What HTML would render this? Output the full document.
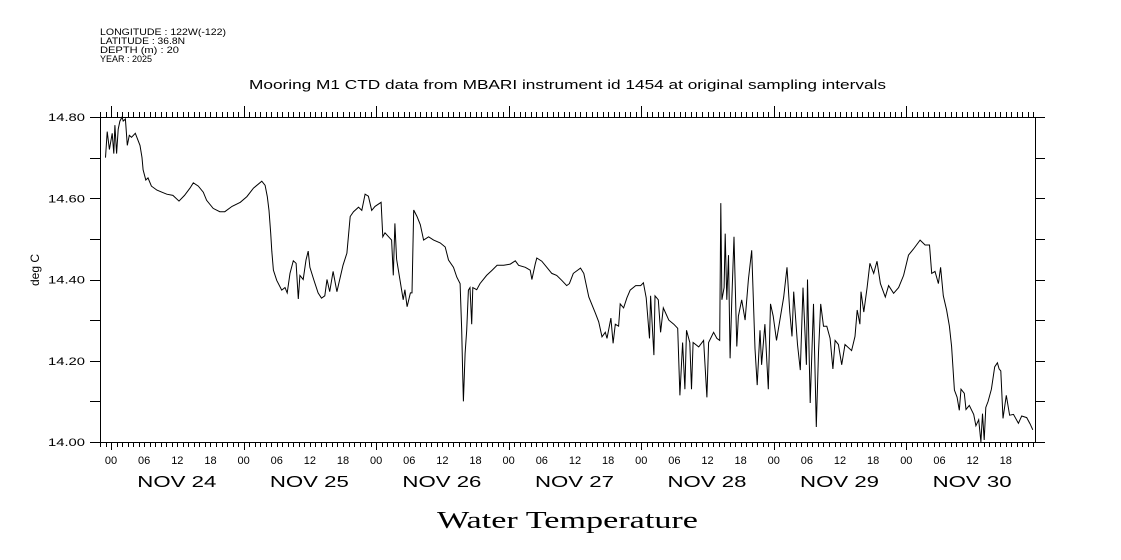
<!DOCTYPE html>
<html><head><meta charset="utf-8">
<style>
html,body{margin:0;padding:0;background:#fff;}
svg{display:block;}
text{font-family:"Liberation Sans",sans-serif;fill:#000;}
</style></head>
<body>
<svg id="chart" width="1121" height="560" viewBox="0 0 1121 560" xmlns="http://www.w3.org/2000/svg">
<g>
<text x="100" y="35" textLength="126" lengthAdjust="spacingAndGlyphs" style="font-size:9px">LONGITUDE : 122W(-122)</text>
<text x="100" y="44" textLength="85" lengthAdjust="spacingAndGlyphs" style="font-size:9px">LATITUDE : 36.8N</text>
<text x="100" y="53" textLength="79" lengthAdjust="spacingAndGlyphs" style="font-size:9px">DEPTH (m) : 20</text>
<text x="100" y="62" textLength="52" lengthAdjust="spacingAndGlyphs" style="font-size:9px">YEAR : 2025</text>
</g>
<text x="249" y="89" textLength="637" lengthAdjust="spacingAndGlyphs" style="font-size:13px">Mooring M1 CTD data from MBARI instrument id 1454 at original sampling intervals</text>
<text transform="translate(39,270) rotate(-90)" text-anchor="middle" style="font-size:12px">deg C</text>
<text x="437" y="528" textLength="261" lengthAdjust="spacingAndGlyphs" style="font-family:'Liberation Serif',serif;font-size:24px">Water Temperature</text>
<g id="axes"></g>
<g id="plot"></g>
</svg>
<script>
const yTicks=[14.0,14.1,14.2,14.3,14.4,14.5,14.6,14.7,14.8];
const yLabels=["14.00","14.20","14.40","14.60","14.80"];
const dayLabels=["NOV 24","NOV 25","NOV 26","NOV 27","NOV 28","NOV 29","NOV 30"];
const hourLabels=["00","06","12","18"];
const hours=[-1,-0.7,-0.3,0.2,0.5,0.7,1.0,1.3,1.6,2.0,2.2,2.6,2.95,3.3,3.7,4.4,5.25,5.6,5.8,6.3,6.7,7.3,8.3,9.2,10.1,11.2,12.3,13.3,14.3,14.9,15.8,16.7,17.3,18.5,19.7,20.6,21.9,23.4,24.6,25.8,27.3,27.9,28.3,28.6,28.9,29.1,29.4,30,30.9,31.5,31.9,32.4,33,33.5,33.9,34.2,34.8,35.3,35.7,36,36.7,37.5,38.1,38.7,39.1,39.6,40.2,40.9,42,42.7,43.3,43.9,44.8,45.4,46,46.6,47.2,47.8,48.9,49.2,49.6,50.8,51.1,51.4,51.7,52.3,52.9,53.2,53.6,54.2,54.5,54.8,55.4,56,56.6,57.5,58.4,59.6,60.5,61.1,62,62.6,63.2,63.5,63.7,63.8,64.1,64.4,64.7,65,65.3,65.5,66.2,66.8,68,69,69.9,71.1,72.3,73.2,73.8,75,75.9,76.2,76.8,77.1,78,78.9,79.8,80.7,81.6,82.5,83,83.7,85,85.6,86.5,87.7,88.3,88.9,89.5,89.8,90.5,90.9,91.3,91.9,92.2,92.8,93.4,94,95,95.9,96.4,96.9,97.5,97.7,98.3,98.5,99.1,99.5,100,101,101.9,102.6,103,103.5,103.9,104.2,104.8,105.1,105.4,106.4,107.3,107.9,108.2,109.1,109.7,110.2,110.4,110.6,111,111.2,111.5,111.8,112.1,112.4,112.8,113.3,113.6,114.2,114.8,115.4,116,116.6,117,117.5,117.8,118.4,119,119.4,119.9,120.5,121.8,122.4,122.9,123.3,123.6,124.3,124.8,125.3,125.9,126.1,126.6,127.2,127.7,128.1,128.5,129,129.6,130.2,130.7,131.1,131.7,132.3,132.9,134.1,134.7,135.1,135.6,135.8,136.3,136.9,137.4,138.1,138.7,139.3,140.2,140.8,141.7,142.6,143.5,144.4,145.3,146.5,147.4,148.2,148.6,149.2,149.8,150.2,150.7,151.3,151.8,152.2,152.7,153.2,153.6,153.9,154.5,154.8,155.4,156.2,156.6,157.1,157.5,157.8,158.1,158.4,158.8,159.4,160,160.5,160.8,161.1,161.5,162.1,162.7,163.4,164.3,164.9,165.8,166.4,166.9];
const temps=[14.70,14.764,14.72,14.76,14.71,14.78,14.71,14.77,14.79,14.80,14.79,14.795,14.73,14.755,14.75,14.76,14.73,14.70,14.67,14.645,14.65,14.63,14.62,14.615,14.61,14.607,14.593,14.607,14.625,14.638,14.63,14.615,14.595,14.575,14.567,14.567,14.58,14.59,14.604,14.625,14.642,14.632,14.604,14.57,14.514,14.47,14.423,14.398,14.374,14.38,14.367,14.415,14.446,14.44,14.352,14.41,14.40,14.448,14.47,14.43,14.40,14.367,14.354,14.36,14.40,14.37,14.42,14.37,14.435,14.465,14.555,14.567,14.578,14.57,14.61,14.605,14.57,14.58,14.59,14.505,14.515,14.497,14.41,14.538,14.45,14.40,14.35,14.375,14.333,14.367,14.367,14.571,14.555,14.535,14.497,14.505,14.497,14.49,14.48,14.448,14.43,14.406,14.39,14.275,14.157,14.10,14.218,14.275,14.374,14.38,14.29,14.38,14.375,14.39,14.41,14.423,14.435,14.435,14.438,14.446,14.435,14.43,14.423,14.40,14.438,14.453,14.445,14.43,14.415,14.41,14.398,14.385,14.39,14.415,14.428,14.415,14.357,14.317,14.296,14.259,14.27,14.255,14.305,14.243,14.29,14.285,14.34,14.33,14.355,14.374,14.385,14.385,14.392,14.355,14.255,14.36,14.214,14.36,14.35,14.27,14.33,14.30,14.29,14.28,14.115,14.245,14.13,14.275,14.245,14.13,14.245,14.234,14.25,14.11,14.245,14.27,14.255,14.25,14.588,14.35,14.38,14.513,14.35,14.46,14.206,14.35,14.505,14.235,14.31,14.35,14.30,14.40,14.472,14.23,14.14,14.275,14.19,14.29,14.13,14.34,14.31,14.25,14.357,14.43,14.32,14.26,14.37,14.24,14.177,14.38,14.19,14.40,14.096,14.34,14.037,14.22,14.34,14.285,14.285,14.255,14.18,14.25,14.24,14.19,14.24,14.225,14.26,14.325,14.29,14.37,14.32,14.38,14.44,14.415,14.445,14.39,14.357,14.385,14.366,14.38,14.41,14.46,14.475,14.497,14.485,14.485,14.415,14.42,14.39,14.43,14.36,14.325,14.285,14.235,14.128,14.11,14.078,14.13,14.12,14.08,14.09,14.068,14.04,14.055,14.00,14.07,14.005,14.085,14.10,14.13,14.185,14.195,14.18,14.175,14.058,14.115,14.066,14.068,14.046,14.064,14.06,14.045,14.03];

const X0=100,X1=1035,Y0=117,Y1=442;
const H0=-2.0,H1=167.3;
const yMin=14.0,yMax=14.8;
function xs(h){return X0+(h-H0)/(H1-H0)*(X1-X0);}
function ys(v){return Y1-(v-yMin)/(yMax-yMin)*(Y1-Y0);}
const NS="http://www.w3.org/2000/svg";
const axes=document.getElementById('axes');
const plot=document.getElementById('plot');
function mk(tag,attrs,parent){const e=document.createElementNS(NS,tag);for(const k in attrs)e.setAttribute(k,attrs[k]);parent.appendChild(e);return e;}

const frame=mk('rect',{x:X0+0.5,y:Y0+0.5,width:X1-X0,height:Y1-Y0,fill:'none',stroke:'#000','stroke-width':1},axes);



let d='';
yTicks.forEach(v=>{const y=Math.round(ys(v))+0.5;d+=`M${X0-10},${y}H${X0}M${X1},${y}H${X1+10}`;});
for(let h=Math.ceil(H0);h<=H1;h++){
  const x=Math.round(xs(h))+0.5;
  const day=(h%24===0);
  d+=`M${x},${Y0}V${Y0-(day?11:5)}M${x},${Y1}V${Y1+(day?8:5)}`;
}
const ticks=mk('path',{d:d,stroke:'#000','stroke-width':1,fill:'none'},axes);



yLabels.forEach(l=>{
  const t=mk('text',{x:X0-52,y:ys(parseFloat(l))+4,textLength:37,lengthAdjust:'spacingAndGlyphs',style:'font-size:11px'},axes);
  t.textContent=l;
  
  
});
dayLabels.forEach((lab,i)=>{
  hourLabels.forEach((hl,j)=>{
    const h=i*24+j*6;
    const t=mk('text',{x:xs(h),y:464,'text-anchor':'middle',style:'font-size:11px'},axes);
    t.textContent=hl;
    
    
  });
  const t=mk('text',{x:xs(i*24+12)-40,y:487,textLength:79,lengthAdjust:'spacingAndGlyphs',style:'font-size:16px'},axes);
  t.textContent=lab;
  
  
});

let pd='';
hours.forEach((h,i)=>{pd+=(i?'L':'M')+xs(h).toFixed(1)+','+ys(temps[i]).toFixed(1);});
const line=mk('path',{d:pd,stroke:'#000','stroke-width':1,fill:'none'},plot);


</script>
</body></html>
